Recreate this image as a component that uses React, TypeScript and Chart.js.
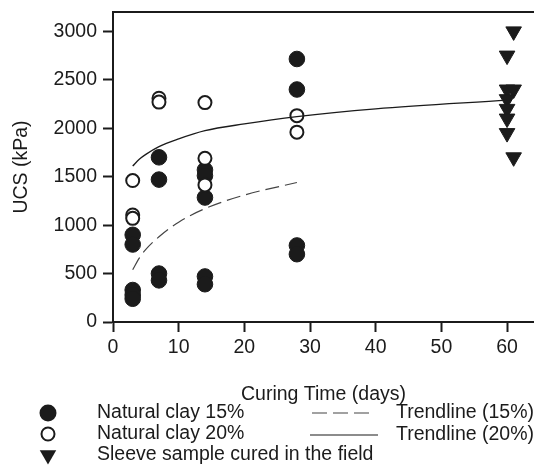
import React, { useEffect, useRef } from "react";
import { Chart, registerables } from "chart.js";

Chart.register(...registerables);

// Unconfined compressive strength of treated clay vs. curing time
const clay15Days = [3, 3, 3, 3, 3, 7, 7, 7, 7, 14, 14, 14, 14, 14, 28, 28, 28, 28];
const clay15Ucs = [900, 800, 330, 280, 240, 1700, 1470, 500, 430, 1570, 1510, 1285, 470, 390, 2715, 2400, 790, 700];

const clay20Days = [3, 3, 3, 7, 7, 14, 14, 14, 28, 28];
const clay20Ucs = [1460, 1105, 1070, 2310, 2270, 2265, 1690, 1415, 2130, 1960];

const sleeveDays = [61, 60, 60, 61, 60, 60, 60, 60, 61];
const sleeveUcs = [3000, 2750, 2400, 2400, 2300, 2200, 2100, 1950, 1700];

// Logarithmic trendlines, sampled along the curves
const trend15Days = [3, 4, 5, 7, 10, 14, 20, 28];
const trend15Ucs = [540, 660, 750, 880, 1030, 1170, 1310, 1440];

const trend20Days = [3, 4, 5, 7, 10, 14, 20, 28, 40, 60];
const trend20Ucs = [1610, 1680, 1730, 1810, 1890, 1975, 2045, 2120, 2200, 2290];

const yTicks = [0, 500, 1000, 1500, 2000, 2500, 3000];
const xTicks = [0, 10, 20, 30, 40, 50, 60];

const xTitle = "Curing Time (days)";
const yTitle = "UCS (kPa)";
const label15 = "Natural clay 15%";
const label20 = "Natural clay 20%";
const labelSleeve = "Sleeve sample cured in the field";
const labelTrend15 = "Trendline (15%)";
const labelTrend20 = "Trendline (20%)";

const INK = "#1b1b1b";
const FONT = '"Liberation Sans", Arial, Helvetica, sans-serif';
const FONT_SIZE = 19.5;
const DASH = [14, 6];

const pts = (xs: number[], ys: number[]) => xs.map((x, i) => ({ x, y: ys[i] }));

const frameAndLegend = {
  id: "frameAndLegend",
  afterDraw(chart: any) {
    const { ctx, chartArea } = chart;
    ctx.save();
    ctx.strokeStyle = INK;
    ctx.fillStyle = INK;

    // top frame line
    ctx.lineWidth = 2;
    ctx.beginPath();
    ctx.moveTo(chartArea.left - 1, chartArea.top);
    ctx.lineTo(chartArea.right, chartArea.top);
    ctx.stroke();

    ctx.font = `${FONT_SIZE}px ${FONT}`;
    ctx.textBaseline = "middle";

    // axis titles
    ctx.textAlign = "center";
    ctx.fillText(xTitle, (chartArea.left + chartArea.right) / 2, chartArea.bottom + 73);
    ctx.save();
    ctx.translate(22, (chartArea.top + chartArea.bottom) / 2);
    ctx.rotate(-Math.PI / 2);
    ctx.fillText(yTitle, 0, 0);
    ctx.restore();

    // legend
    const rows = [413, 434, 455];
    const symX = 48;
    const textX = 97;
    ctx.textAlign = "left";

    // filled circle
    ctx.beginPath();
    ctx.arc(symX, rows[0], 8.5, 0, Math.PI * 2);
    ctx.fill();
    ctx.fillText(label15, textX, rows[0]);

    // open circle
    ctx.beginPath();
    ctx.lineWidth = 2;
    ctx.arc(symX, rows[1], 6.5, 0, Math.PI * 2);
    ctx.stroke();
    ctx.fillText(label20, textX, rows[1]);

    // downward triangle
    const r = 9.5;
    ctx.beginPath();
    ctx.moveTo(symX, rows[2] + r);
    ctx.lineTo(symX - r * Math.sin(Math.PI / 3), rows[2] - r / 2);
    ctx.lineTo(symX + r * Math.sin(Math.PI / 3), rows[2] - r / 2);
    ctx.closePath();
    ctx.fill();
    ctx.fillText(labelSleeve, textX, rows[2]);

    // trendline keys
    ctx.lineWidth = 1.2;
    ctx.strokeStyle = "#444";
    ctx.setLineDash([15, 6]);
    ctx.beginPath();
    ctx.moveTo(312, rows[0]);
    ctx.lineTo(369, rows[0]);
    ctx.stroke();
    ctx.setLineDash([]);
    ctx.strokeStyle = INK;
    ctx.beginPath();
    ctx.moveTo(310, rows[1] + 1);
    ctx.lineTo(378, rows[1] + 1);
    ctx.stroke();
    ctx.fillText(labelTrend15, 396, rows[0]);
    ctx.fillText(labelTrend20, 396, rows[1] + 1);

    ctx.restore();
  },
};

const keepTicks = (values: number[]) => (scale: any) => {
  scale.ticks = values.map((v) => ({ value: v }));
};

const fixSize = (size: "width" | "height", value: number) => (scale: any) => {
  scale[size] = value;
  scale.paddingTop = 0;
  scale.paddingBottom = 0;
  scale.paddingLeft = 0;
  scale.paddingRight = 0;
};

const plainLabel = (value: any) => String(value);

export default function App() {
  const canvasRef = useRef<HTMLCanvasElement | null>(null);

  useEffect(() => {
    if (!canvasRef.current) return;
    const chart = new Chart(canvasRef.current, {
      type: "scatter",
      data: {
        datasets: [
          {
            label: labelTrend20,
            data: pts(trend20Days, trend20Ucs),
            showLine: true,
            borderColor: INK,
            borderWidth: 1.3,
            pointRadius: 0,
            cubicInterpolationMode: "monotone",
            order: 0,
          },
          {
            label: labelTrend15,
            data: pts(trend15Days, trend15Ucs),
            showLine: true,
            borderColor: "#444",
            borderWidth: 1.2,
            borderDash: DASH,
            pointRadius: 0,
            cubicInterpolationMode: "monotone",
            order: 0,
          },
          {
            label: label20,
            data: pts(clay20Days, clay20Ucs),
            pointStyle: "circle",
            pointRadius: 6.5,
            pointBorderWidth: 2,
            pointBackgroundColor: "#ffffff",
            pointBorderColor: INK,
            order: 1,
          },
          {
            label: labelSleeve,
            data: pts(sleeveDays, sleeveUcs),
            pointStyle: "triangle",
            rotation: 180,
            pointRadius: 9,
            pointBorderWidth: 1,
            pointBackgroundColor: INK,
            pointBorderColor: INK,
            order: 1,
          },
          {
            label: label15,
            data: pts(clay15Days, clay15Ucs),
            pointStyle: "circle",
            pointRadius: 7.8,
            pointBorderWidth: 1,
            pointBackgroundColor: INK,
            pointBorderColor: INK,
            order: 2,
          },
        ],
      },
      options: {
        animation: false,
        responsive: false,
        maintainAspectRatio: false,
        events: [],
        layout: { autoPadding: false, padding: { top: 12, left: 0, right: 0, bottom: 0 } },
        plugins: {
          legend: { display: false },
          tooltip: { enabled: false },
          title: { display: false },
        },
        scales: {
          x: {
            type: "linear",
            min: 0,
            max: 64.1,
            afterBuildTicks: keepTicks(xTicks),
            afterFit: fixSize("height", 145),
            border: { display: true, color: INK, width: 2 },
            grid: {
              drawOnChartArea: false,
              drawTicks: true,
              tickLength: 10,
              tickWidth: 2,
              tickColor: INK,
            },
            ticks: {
              color: INK,
              padding: 4,
              maxRotation: 0,
              autoSkip: false,
              callback: plainLabel,
              font: { family: FONT, size: FONT_SIZE },
            },
            title: { display: false },
          },
          y: {
            type: "linear",
            min: 0,
            max: 3200,
            afterBuildTicks: keepTicks(yTicks),
            afterFit: fixSize("width", 113),
            border: { display: true, color: INK, width: 2 },
            grid: {
              drawOnChartArea: false,
              drawTicks: true,
              tickLength: 10,
              tickWidth: 2,
              tickColor: INK,
            },
            ticks: {
              color: INK,
              padding: 6,
              autoSkip: false,
              callback: plainLabel,
              font: { family: FONT, size: FONT_SIZE },
            },
            title: { display: false },
          },
        },
      },
      plugins: [frameAndLegend],
    } as any);
    return () => chart.destroy();
  }, []);

  return (
    <div style={{ position: "absolute", left: 0, top: 0, width: 534, height: 467, background: "#ffffff" }}>
      <canvas ref={canvasRef} width={534} height={467} style={{ display: "block" }} />
    </div>
  );
}
